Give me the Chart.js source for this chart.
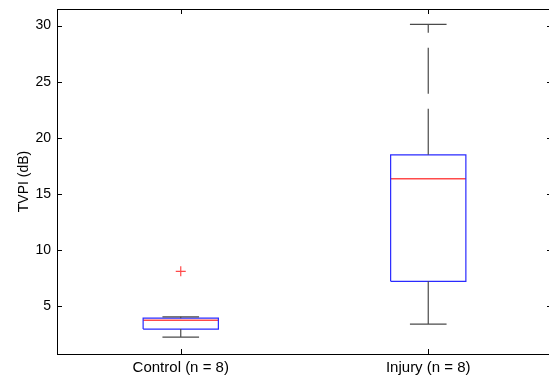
<!DOCTYPE html>
<html lang="en">
<head>
    <meta charset="UTF-8">
    <title>TVPI boxplot</title>
    <script src="https://cdn.jsdelivr.net/npm/chart.js"></script>
    <style>
        html, body { margin: 0; padding: 0; background: #fff; overflow: hidden; }
        #wrap { width: 560px; height: 379px; }
    </style>
</head>
<body>
    <div id="wrap"><canvas id="box"></canvas></div>
    <script>
        // box plot summary values
        const categories = ['Control (n = 8)', 'Injury (n = 8)'];
        const whiskerLow = [2.28, 3.43];
        const q1 = [2.99, 7.24];
        const median = [3.78, 16.38];
        const q3 = [3.96, 18.5];
        const whiskerHigh = [4.08, 30.12];
        const outliers = [[8.13], []];
        const yTicks = [5, 10, 15, 20, 25, 30];

        const boxHalf = 0.152;
        const capHalf = 0.074;
        const blue = '#2a2aff';
        const red = '#ff4a4a';
        const grey = '#4a4a4a';

        const datasets = [];
        categories.forEach((c, i) => {
            const x = i + 1;
            const line = { showLine: true, pointRadius: 0, fill: false, borderWidth: 1.2 };
            // whiskers (dashed, starting from the box)
            datasets.push(Object.assign({}, line, {
                data: [{ x: x, y: q3[i] }, { x: x, y: whiskerHigh[i] }],
                borderColor: grey, borderDash: [46, 15]
            }));
            datasets.push(Object.assign({}, line, {
                data: [{ x: x, y: q1[i] }, { x: x, y: whiskerLow[i] }],
                borderColor: grey, borderDash: [46, 15]
            }));
            // caps
            datasets.push(Object.assign({}, line, {
                data: [{ x: x - capHalf, y: whiskerHigh[i] }, { x: x + capHalf, y: whiskerHigh[i] }],
                borderColor: grey
            }));
            datasets.push(Object.assign({}, line, {
                data: [{ x: x - capHalf, y: whiskerLow[i] }, { x: x + capHalf, y: whiskerLow[i] }],
                borderColor: grey
            }));
            // box
            datasets.push(Object.assign({}, line, {
                data: [
                    { x: x - boxHalf, y: q1[i] }, { x: x + boxHalf, y: q1[i] },
                    { x: x + boxHalf, y: q3[i] }, { x: x - boxHalf, y: q3[i] },
                    { x: x - boxHalf, y: q1[i] }
                ],
                borderColor: blue
            }));
            // median
            datasets.push(Object.assign({}, line, {
                data: [{ x: x - boxHalf, y: median[i] }, { x: x + boxHalf, y: median[i] }],
                borderColor: red, borderWidth: 1.5
            }));
            // outliers
            if (outliers[i].length) {
                datasets.push({
                    data: outliers[i].map(v => ({ x: x, y: v })),
                    showLine: false,
                    pointStyle: 'cross',
                    pointRadius: 5,
                    borderColor: red,
                    borderWidth: 1.2
                });
            }
        });

        // MATLAB-like frame with inward ticks on all four sides
        const frame = {
            id: 'frame',
            afterDraw(chart) {
                const ctx = chart.ctx;
                const a = chart.chartArea;
                const xs = chart.scales.x, ys = chart.scales.y;
                ctx.save();
                ctx.strokeStyle = '#000';
                ctx.lineWidth = 1;
                ctx.strokeRect(Math.round(a.left) + 0.5, Math.round(a.top) + 0.5,
                    Math.round(a.right - a.left), Math.round(a.bottom - a.top));
                ctx.beginPath();
                yTicks.forEach(v => {
                    const py = Math.round(ys.getPixelForValue(v)) + 0.5;
                    ctx.moveTo(a.left, py); ctx.lineTo(a.left + 5, py);
                    ctx.moveTo(a.right, py); ctx.lineTo(a.right - 5, py);
                });
                categories.forEach((c, i) => {
                    const px = Math.round(xs.getPixelForValue(i + 1)) + 0.5;
                    ctx.moveTo(px, a.bottom); ctx.lineTo(px, a.bottom - 5);
                    ctx.moveTo(px, a.top); ctx.lineTo(px, a.top + 5);
                });
                ctx.stroke();
                ctx.restore();
            }
        };

        const font = { family: '"Liberation Sans", Arial, sans-serif', size: 14 };
        const xFont = { family: '"Liberation Sans", Arial, sans-serif', size: 15 };

        new Chart(document.getElementById('box'), {
            type: 'scatter',
            data: { datasets: datasets },
            options: {
                responsive: true,
                maintainAspectRatio: false,
                animation: false,
                layout: { padding: { top: 9, right: 8, left: 0, bottom: 0 } },
                plugins: { legend: { display: false }, tooltip: { enabled: false } },
                scales: {
                    x: {
                        type: 'linear',
                        min: 0.5, max: 2.5,
                        afterBuildTicks: s => { s.ticks = categories.map((c, i) => ({ value: i + 1 })); },
                        afterFit: s => { s.height = 25; s.paddingLeft = 0; s.paddingRight = 0; },
                        ticks: { color: '#000', font: xFont, padding: 5, autoSkip: false, maxRotation: 0,
                            callback: v => categories[v - 1] },
                        grid: { display: false, drawTicks: false },
                        border: { display: false }
                    },
                    y: {
                        min: 0.77, max: 31.48,
                        afterBuildTicks: s => { s.ticks = yTicks.map(v => ({ value: v })); },
                        afterFit: s => { s.width = 57; s.paddingTop = 0; s.paddingBottom = 0; },
                        ticks: { color: '#000', font: font, padding: 6 },
                        grid: { display: false, drawTicks: false },
                        border: { display: false },
                        title: { display: true, text: 'TVPI (dB)', color: '#000', font: font, padding: { top: 16, bottom: 0 } }
                    }
                }
            },
            plugins: [frame]
        });
    </script>
</body>
</html>
